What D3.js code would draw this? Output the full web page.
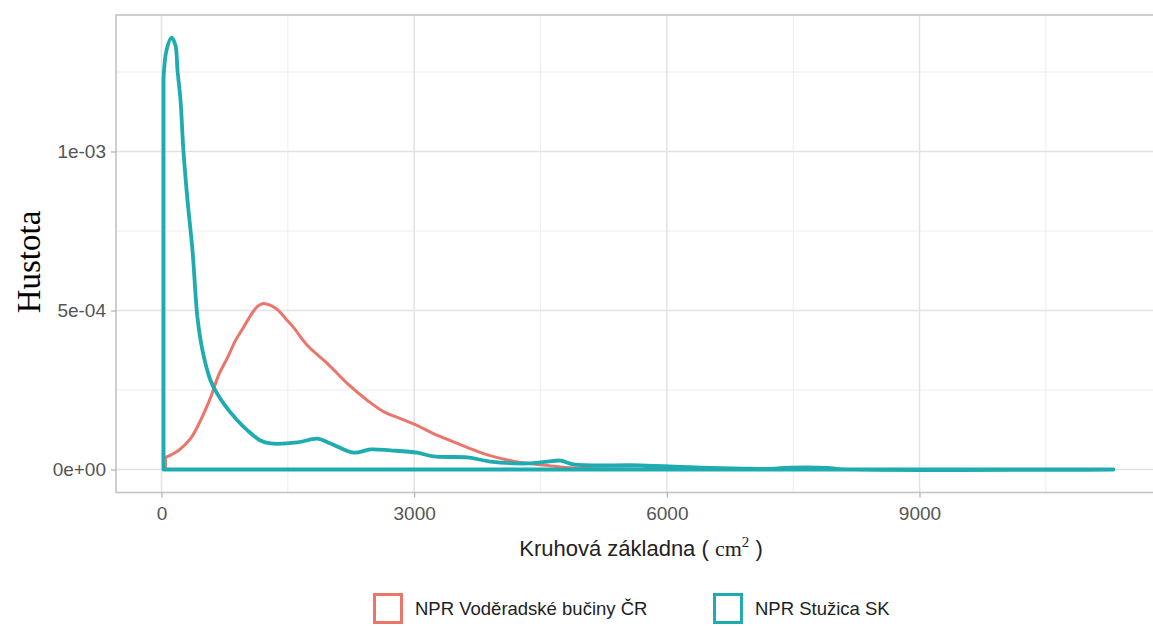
<!DOCTYPE html>
<html>
<head>
<meta charset="utf-8">
<script src="https://cdn.jsdelivr.net/npm/d3@7"></script>
<style>
  body { margin: 0; background: #fff; }
</style>
</head>
<body>
<div id="chart"></div>
<script>

// tick values and labels
var xTicks = [0, 3000, 6000, 9000];
var xMinor = [1500, 4500, 7500, 10500];
var yTicks = [0, 5e-4, 1e-3];
var yTickLabels = ["0e+00", "5e-04", "1e-03"];
var yMinor = [2.5e-4, 7.5e-4, 1.25e-3];

var seriesNames = ["NPR Voděradské bučiny ČR", "NPR Stužica SK"];
var seriesColors = ["#EC756B", "#1EACB0"];

// NPR Voděradské bučiny ČR - density curve
var vodX = [47, 202, 344, 463, 582, 677, 784, 879, 974, 1057, 1140, 1211, 1294, 1377, 1472, 1567,
            1733, 1971, 2208, 2446, 2636, 2837, 3039, 3229, 3431, 3633, 3823, 4025, 4262, 4583,
            4796, 5212, 5687];
var vodY = [0.38e-4, 0.60e-4, 0.97e-4, 1.54e-4, 2.26e-4, 2.96e-4, 3.52e-4, 4.06e-4, 4.47e-4, 4.84e-4,
            5.13e-4, 5.22e-4, 5.16e-4, 5.03e-4, 4.75e-4, 4.47e-4, 3.90e-4, 3.33e-4, 2.70e-4, 2.17e-4,
            1.82e-4, 1.60e-4, 1.38e-4, 1.13e-4, 0.91e-4, 0.69e-4, 0.50e-4, 0.35e-4, 0.22e-4, 0.13e-4,
            0.06e-4, 0.02e-4, 0];

// NPR Stužica SK - density curve
var stuX = [24, 59, 119, 166, 190, 226, 261, 309, 368, 427, 487, 582, 641, 736, 902, 1021, 1175,
            1294, 1615, 1852, 2006, 2279, 2481, 2719, 3039, 3229, 3633, 3906, 4345, 4583, 4737,
            4891, 5687, 6399, 6909, 7230, 7467, 7907, 8061, 11302];
var stuY = [12.30e-4, 13.18e-4, 13.58e-4, 13.33e-4, 12.55e-4, 11.6e-4, 10.0e-4, 8.46e-4, 6.89e-4,
            4.78e-4, 3.74e-4, 2.80e-4, 2.48e-4, 2.08e-4, 1.54e-4, 1.23e-4, 0.91e-4, 0.82e-4, 0.85e-4,
            0.97e-4, 0.82e-4, 0.53e-4, 0.63e-4, 0.60e-4, 0.53e-4, 0.41e-4, 0.38e-4, 0.25e-4, 0.19e-4,
            0.25e-4, 0.28e-4, 0.16e-4, 0.13e-4, 0.06e-4, 0.03e-4, 0.02e-4, 0.06e-4, 0.05e-4, 0.01e-4, 0];

var width = 1153, height = 626;
var panel = {left: 116, top: 15, right: 1175, bottom: 492.5};

var svg = d3.select("#chart")
  .append("svg")
    .attr("width", width)
    .attr("height", height)
    .style("font-family", "Liberation Sans, Arial, sans-serif");

var x = d3.scaleLinear()
  .domain([0, 9000])
  .range([161.5, 919.5]);

var y = d3.scaleLinear()
  .domain([0, 1e-3])
  .range([469.5, 151.5]);

// minor grid
svg.selectAll(".xminor")
  .data(xMinor)
  .enter().append("line")
    .attr("x1", d => x(d)).attr("x2", d => x(d))
    .attr("y1", panel.top).attr("y2", panel.bottom)
    .attr("stroke", "#EBEBEB").attr("stroke-width", 0.9);
svg.selectAll(".yminor")
  .data(yMinor)
  .enter().append("line")
    .attr("x1", panel.left).attr("x2", panel.right)
    .attr("y1", d => y(d)).attr("y2", d => y(d))
    .attr("stroke", "#EBEBEB").attr("stroke-width", 0.9);

// major grid
svg.selectAll(".xmajor")
  .data(xTicks)
  .enter().append("line")
    .attr("x1", d => x(d)).attr("x2", d => x(d))
    .attr("y1", panel.top).attr("y2", panel.bottom)
    .attr("stroke", "#E2E2E2").attr("stroke-width", 1.5);
svg.selectAll(".ymajor")
  .data(yTicks)
  .enter().append("line")
    .attr("x1", panel.left).attr("x2", panel.right)
    .attr("y1", d => y(d)).attr("y2", d => y(d))
    .attr("stroke", "#E2E2E2").attr("stroke-width", 1.5);

// density outlines, closed down to the baseline like geom_density
var line = d3.line()
  .x(d => x(d[0]))
  .y(d => y(d[1]))
  .curve(d3.curveCatmullRom.alpha(0.5));

function outline(xs, ys) {
  var pts = xs.map((v, i) => [v, ys[i]]);
  return "M" + x(xs[0]) + "," + y(0) + "L" + line(pts).slice(1) + "L" + x(xs[xs.length - 1]) + "," + y(0) + "Z";
}

svg.append("path")
  .attr("d", outline(vodX, vodY))
  .attr("fill", "none")
  .attr("stroke", seriesColors[0])
  .attr("stroke-width", 3)
  .attr("stroke-linejoin", "round");

svg.append("path")
  .attr("d", outline(stuX, stuY))
  .attr("fill", "none")
  .attr("stroke", seriesColors[1])
  .attr("stroke-width", 3.8)
  .attr("stroke-linejoin", "round");

// panel border
svg.append("rect")
  .attr("x", panel.left)
  .attr("y", panel.top)
  .attr("width", panel.right - panel.left)
  .attr("height", panel.bottom - panel.top)
  .attr("fill", "none")
  .attr("stroke", "#C4C4C4")
  .attr("stroke-width", 1.6);

// axes
var xAxis = svg.append("g")
  .attr("transform", "translate(0," + panel.bottom + ")")
  .call(d3.axisBottom(x).tickValues(xTicks).tickSize(5).tickPadding(9).tickFormat(d3.format("d")));

var yAxis = svg.append("g")
  .attr("transform", "translate(" + panel.left + ",0)")
  .call(d3.axisLeft(y).tickValues(yTicks).tickSize(5).tickPadding(5)
    .tickFormat((d, i) => yTickLabels[i]));

[xAxis, yAxis].forEach(function(a) {
  a.select(".domain").remove();
  a.selectAll(".tick line").attr("stroke", "#B0B0B0").attr("stroke-width", 1.2);
  a.selectAll(".tick text")
    .attr("fill", "#555")
    .style("font-size", "19px")
    .style("font-family", "Liberation Sans, Arial, sans-serif");
});

// axis titles
var xTitle = svg.append("text")
  .attr("x", 641)
  .attr("y", 556)
  .attr("text-anchor", "middle")
  .attr("fill", "#222")
  .style("font-size", "22px");
xTitle.append("tspan").text("Kruhová základna ( ");
xTitle.append("tspan").style("font-family", "Liberation Serif, Times New Roman, serif").text("cm");
xTitle.append("tspan").attr("dy", -9).style("font-family", "Liberation Serif, Times New Roman, serif")
  .style("font-size", "15px").text("2");
xTitle.append("tspan").attr("dy", 9).text(" )");

svg.append("text")
  .attr("transform", "translate(40,262) rotate(-90)")
  .attr("text-anchor", "middle")
  .attr("fill", "#000")
  .style("font-family", "Liberation Serif, Times New Roman, serif")
  .style("font-size", "33px")
  .text("Hustota");

// legend
var legendX = [373, 713];
var legend = svg.selectAll(".legend")
  .data(seriesNames)
  .enter().append("g")
    .attr("transform", (d, i) => "translate(" + legendX[i] + ",593)");

legend.append("rect")
  .attr("x", 1.5).attr("y", 1.5)
  .attr("width", 27).attr("height", 28)
  .attr("fill", "#fff")
  .attr("stroke", (d, i) => seriesColors[i])
  .attr("stroke-width", 3);

legend.append("text")
  .attr("x", 42)
  .attr("y", 22)
  .attr("fill", "#222")
  .style("font-size", "18.5px")
  .text(d => d);

</script>
</body>
</html>
